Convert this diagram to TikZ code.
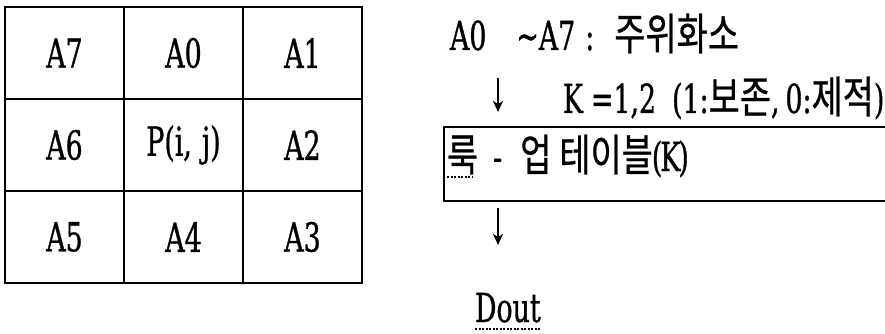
\documentclass[tikz,border=0pt]{standalone}
\usepackage{fontspec}
\usetikzlibrary{arrows.meta}
\newfontfamily\latfont[FakeStretch=0.67,FakeBold=0.8]{DejaVu Serif}
\newfontfamily\hanfont[FakeStretch=0.77,FakeBold=0.6]{Noto Sans CJK KR}
\newcommand\lt{\latfont\fontsize{40}{44}\selectfont}
\newcommand\hg[1]{{\hanfont\fontsize{44}{48}\selectfont #1}}
\tikzset{
  cell/.style={draw, line width=1.8pt, minimum width=119pt, minimum height=92pt,
               inner sep=0pt, outer sep=0pt, font=\lt},
  txtlabel/.style={inner sep=0pt, outer sep=0pt, anchor=base west, font=\lt},
  flow/.style={line width=1.6pt, -{Stealth[length=11pt,width=10pt,inset=3pt]}},
  frame/.style={line width=1.8pt},
  squig/.style={line width=1.4pt, dash pattern=on 2pt off 1.5pt}
}
\begin{document}
\begin{tikzpicture}[x=1pt,y=-1pt]
\useasboundingbox (0,0) rectangle (885,334);
% neighbourhood of the centre pixel
\node[cell] (a7) at (64.5,53)  {A7};
\node[cell] (a0) at (183.5,53) {A0};
\node[cell] (a1) at (302.5,53) {A1};
\node[cell] (a6) at (64.5,145)  {A6};
\node[cell] (p)  at (183.5,145) {P(i,\hspace{10pt}j)};
\node[cell] (a2) at (302.5,145) {A2};
\node[cell] (a5) at (64.5,237)  {A5};
\node[cell] (a4) at (183.5,237) {A4};
\node[cell] (a3) at (302.5,237) {A3};

% processing flow
\node[txtlabel] (nbr) at (450,50)
  {A0\hspace{30pt}\textasciitilde A7\hspace{10pt}:\hspace{20pt}\hg{주위화소}};
\node[txtlabel] (kval) at (563,113)
  {K\hspace{8pt}=1,2\hspace{16pt}(1:\hg{보존},\hspace{6pt}0:\hg{제적})};
\node[txtlabel] (lut) at (447,171)
  {\hg{룩}\hspace{15pt}-\hspace{18pt}\hg{업}\hspace{8pt}\hg{테이블}\kern-1pt(\kern-2pt K\kern-2pt)};
\node[txtlabel] (dout) at (475,322) {Dout};

% lookup table frame, open on the right
\coordinate (bx1) at (886,127);
\coordinate (bx2) at (444,127);
\coordinate (bx3) at (444,201);
\coordinate (bx4) at (886,201);
\draw[frame] (bx1) -- (bx2) -- (bx3) -- (bx4);

% arrows
\coordinate (f1s) at (498,78);
\coordinate (f1e) at (498,112);
\coordinate (f2s) at (498,208);
\coordinate (f2e) at (498,245);
\draw[flow] (f1s) -- (f1e);
\draw[flow] (f2s) -- (f2e);

% dotted underline marks
\draw[squig] ([yshift=-6pt]lut.base west) -- ++(26,0);
\draw[squig] ([yshift=-7pt]dout.base west) -- ([yshift=-7pt]dout.base east);
\end{tikzpicture}
\end{document}
